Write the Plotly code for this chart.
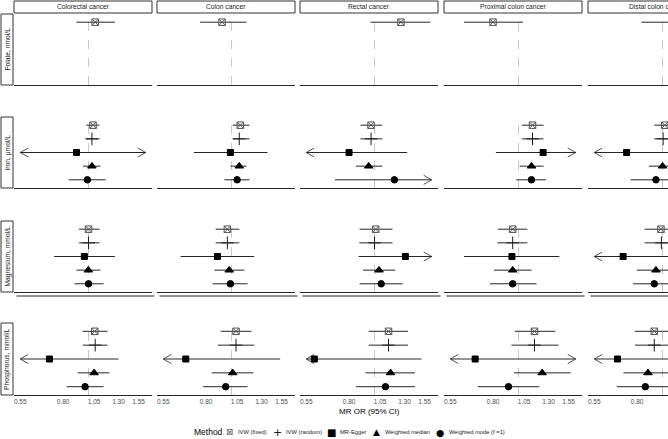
import math
import plotly.graph_objects as go

# ---------------- data ----------------
CANCERS = ["Colorectal cancer", "Colon cancer", "Rectal cancer",
           "Proximal colon cancer", "Distal colon cancer"]
EXPOSURES = ["Folate, nmol/L", "Iron, μmol/L", "Magnesium, mmol/L", "Phosphorus, mmol/L"]
METHODS = ["IVW (fixed)", "IVW (random)", "MR-Egger", "Weighted median", "Weighted mode (f =1)"]
TICK_VALUES = [0.55, 0.80, 1.05, 1.30, 1.55]
TICK_LABELS = ["0.55", "0.80", "1.05", "1.30", "1.55"]
AXIS_LIMITS = [0.55, 1.65]
NULL_OR = 1.0

# rows = methods, columns = cancers
FOLATE_OR = [[1.06, 0.92, 1.26, 0.80, 1.15],
             [None] * 5, [None] * 5, [None] * 5, [None] * 5]
FOLATE_LO = [[0.90, 0.76, 0.965, 0.62, 0.83],
             [None] * 5, [None] * 5, [None] * 5, [None] * 5]
FOLATE_HI = [[1.26, 1.14, 1.63, 1.04, 1.59],
             [None] * 5, [None] * 5, [None] * 5, [None] * 5]

IRON_OR = [[1.04, 1.08, 0.97, 1.13, 1.02],
           [1.03, 1.07, 0.97, 1.13, 1.005],
           [0.90, 0.99, 0.80, 1.24, 0.73],
           [1.03, 1.07, 0.95, 1.12, 1.00],
           [0.99, 1.05, 1.19, 1.12, 0.944]]
IRON_LO = [[0.98, 1.01, 0.884, 1.03, 0.93],
           [0.975, 1.01, 0.884, 1.03, 0.93],
           [0.40, 0.72, 0.45, 0.82, 0.42],
           [0.953, 0.99, 0.85, 1.01, 0.887],
           [0.84, 0.94, 0.706, 0.98, 0.756]]
IRON_HI = [[1.10, 1.17, 1.07, 1.245, 1.12],
           [1.10, 1.17, 1.07, 1.245, 1.09],
           [2.05, 1.37, 1.33, 1.95, 1.25],
           [1.11, 1.14, 1.07, 1.245, 1.13],
           [1.16, 1.17, 2.00, 1.27, 1.18]]

MAGNESIUM_OR = [[1.00, 0.964, 1.01, 0.95, 0.986],
                [1.00, 0.964, 1.00, 0.95, 0.99],
                [0.964, 0.884, 1.31, 0.944, 0.708],
                [0.998, 0.98, 1.04, 0.95, 0.944],
                [1.00, 0.99, 1.06, 0.95, 0.93]]
MAGNESIUM_LO = [[0.92, 0.87, 0.877, 0.834, 0.855],
                [0.92, 0.87, 0.875, 0.83, 0.855],
                [0.74, 0.64, 0.87, 0.62, 0.45],
                [0.90, 0.86, 0.905, 0.807, 0.798],
                [0.884, 0.847, 0.877, 0.779, 0.772]]
MAGNESIUM_HI = [[1.10, 1.07, 1.17, 1.08, 1.14],
                [1.10, 1.07, 1.17, 1.08, 1.15],
                [1.26, 1.22, 1.98, 1.43, 1.20],
                [1.11, 1.12, 1.20, 1.12, 1.12],
                [1.14, 1.15, 1.28, 1.17, 1.12]]

PHOSPHORUS_OR = [[1.056, 1.04, 1.13, 1.15, 0.93],
                 [1.06, 1.04, 1.13, 1.15, 0.93],
                 [0.71, 0.67, 0.59, 0.684, 0.674],
                 [1.05, 1.01, 1.15, 1.23, 0.88],
                 [0.97, 0.95, 1.10, 0.916, 0.86]]
PHOSPHORUS_LO = [[0.95, 0.91, 0.95, 0.97, 0.785],
                 [0.95, 0.887, 0.95, 0.94, 0.785],
                 [0.40, 0.30, 0.23, 0.28, 0.35],
                 [0.91, 0.84, 0.924, 0.96, 0.71],
                 [0.826, 0.78, 0.85, 0.70, 0.67]]
PHOSPHORUS_HI = [[1.18, 1.19, 1.34, 1.38, 1.10],
                 [1.18, 1.22, 1.34, 1.42, 1.10],
                 [1.30, 1.53, 1.51, 1.75, 1.30],
                 [1.20, 1.21, 1.425, 1.58, 1.09],
                 [1.14, 1.15, 1.425, 1.20, 1.10]]

EXPOSURE_DATA = [(FOLATE_OR, FOLATE_LO, FOLATE_HI),
                 (IRON_OR, IRON_LO, IRON_HI),
                 (MAGNESIUM_OR, MAGNESIUM_LO, MAGNESIUM_HI),
                 (PHOSPHORUS_OR, PHOSPHORUS_LO, PHOSPHORUS_HI)]

# ---------------- styling / geometry ----------------
FIG_W, FIG_H = 668, 439
COL_LEFT = [14, 157, 300, 444, 588]
PANEL_W = 138
ROW_TOP = [14, 117, 221, 323]
ROW_BOTTOM = [85, 188, 292, 395]
STRIP_TOP, STRIP_BOTTOM = 1, 13
ROW_STRIP_LEFT, ROW_STRIP_RIGHT = 1, 13
EXPAND = 0.05
Y_MIN, Y_MAX = 0.4, 5.6
ARROW_LEN_PX = 8
ARROW_HALF_H = 0.33
FONT = "Liberation Sans, Arial, sans-serif"
LINE_COL = "#262626"
SYMBOLS = ["square-x-open", "cross-thin-open", "square", "triangle-up", "circle"]
SIZES = [6.5, 9, 6, 7.5, 6.5]
MARKER_COLORS = ["#555555", "#1a1a1a", "#000000", "#000000", "#000000"]
# key glyphs / placement for the legend row (pixels)
LEGEND_GLYPHS = ["⊠", "+", "■", "▲", "●"]
LEGEND_GLYPH_SIZE = [8.5, 11, 10, 9, 9.5]
LEGEND_GLYPH_X = [229, 277, 331, 376, 440]
LEGEND_TEXT_X = [236, 284, 338, 383, 447]
LEGEND_TITLE_X = 192
LEGEND_Y = 432


def px(xp):
    return xp / FIG_W


def py(yp):
    return 1 - yp / FIG_H


XMIN, XMAX = AXIS_LIMITS
span = math.log10(XMAX) - math.log10(XMIN)
r0 = math.log10(XMIN) - EXPAND * span
r1 = math.log10(XMAX) + EXPAND * span
px_per_dec = PANEL_W / (r1 - r0)
k = 10 ** (ARROW_LEN_PX / px_per_dec)

fig = go.Figure()
layout = {}
nm = len(METHODS)

for ri, (or_rows, lo_rows, hi_rows) in enumerate(EXPOSURE_DATA):
    for ci in range(len(CANCERS)):
        n = ri * len(CANCERS) + ci + 1
        sfx = "" if n == 1 else str(n)
        xa, ya = "x" + sfx, "y" + sfx

        # reference line at OR = 1
        fig.add_trace(go.Scatter(x=[NULL_OR, NULL_OR], y=[Y_MIN, Y_MAX], mode="lines",
                                 line=dict(color="#b8b8b8", width=0.8, dash="dash"),
                                 xaxis=xa, yaxis=ya, showlegend=False, hoverinfo="skip"))

        cx, cy, axs, ays = [], [], [], []
        for mi in range(nm):
            o = or_rows[mi][ci]
            if o is None:
                continue
            lo, hi = lo_rows[mi][ci], hi_rows[mi][ci]
            y = nm - mi
            cx += [max(lo, XMIN), min(hi, XMAX), None]
            cy += [y, y, None]
            if lo < XMIN:
                axs += [XMIN * k, XMIN, XMIN * k, None]
                ays += [y + ARROW_HALF_H, y, y - ARROW_HALF_H, None]
            if hi > XMAX:
                axs += [XMAX / k, XMAX, XMAX / k, None]
                ays += [y + ARROW_HALF_H, y, y - ARROW_HALF_H, None]
        fig.add_trace(go.Scatter(x=cx, y=cy, mode="lines", line=dict(color=LINE_COL, width=1),
                                 xaxis=xa, yaxis=ya, showlegend=False, hoverinfo="skip"))
        if axs:
            fig.add_trace(go.Scatter(x=axs, y=ays, mode="lines",
                                     line=dict(color=LINE_COL, width=0.8),
                                     xaxis=xa, yaxis=ya, showlegend=False, hoverinfo="skip"))
        for mi in range(nm):
            o = or_rows[mi][ci]
            if o is None:
                continue
            fig.add_trace(go.Scatter(
                x=[o], y=[nm - mi], mode="markers", name=METHODS[mi],
                legendgroup=METHODS[mi], showlegend=False,
                marker=dict(symbol=SYMBOLS[mi], size=SIZES[mi], color=MARKER_COLORS[mi],
                            line=dict(width=1, color=MARKER_COLORS[mi])),
                xaxis=xa, yaxis=ya))

        left = COL_LEFT[ci]
        right = left + PANEL_W
        rng = [r0, r1]
        if right > FIG_W:
            # panel runs past the picture's right edge: show only its visible part
            rng = [r0, r0 + (r1 - r0) * (FIG_W - left) / PANEL_W]
            right = FIG_W
        layout["xaxis" + sfx] = dict(
            type="log", range=rng, domain=[px(left), px(right)], anchor=ya,
            showline=True, linecolor=LINE_COL, linewidth=1, showgrid=False, zeroline=False,
            ticks="", tickvals=TICK_VALUES, ticktext=TICK_LABELS,
            showticklabels=(ri == len(EXPOSURES) - 1),
            tickfont=dict(size=6.5, color="#4d4d4d", family=FONT), fixedrange=True)
        layout["yaxis" + sfx] = dict(
            range=[Y_MIN, Y_MAX], domain=[py(ROW_BOTTOM[ri]), py(ROW_TOP[ri])],
            anchor=xa, visible=False, fixedrange=True)

shapes, annotations = [], []
for ci, name in enumerate(CANCERS):
    left = COL_LEFT[ci]
    shapes.append(dict(type="rect", xref="paper", yref="paper",
                       x0=px(left), x1=px(left + PANEL_W), y0=py(STRIP_BOTTOM), y1=py(STRIP_TOP),
                       line=dict(color="#333333", width=1), fillcolor="white", layer="below"))
    annotations.append(dict(text=name, xref="paper", yref="paper", showarrow=False,
                            x=px(left + PANEL_W / 2), y=py((STRIP_TOP + STRIP_BOTTOM) / 2),
                            xanchor="center", yanchor="middle",
                            font=dict(size=6.7, color="#1a1a1a", family=FONT)))
    # double rule under the magnesium row
    shapes.append(dict(type="line", xref="paper", yref="paper",
                       x0=px(left + 2.5), x1=px(left + PANEL_W + 2.5),
                       y0=py(ROW_BOTTOM[2] + 4), y1=py(ROW_BOTTOM[2] + 4),
                       line=dict(color=LINE_COL, width=1)))

for ri, name in enumerate(EXPOSURES):
    shapes.append(dict(type="rect", xref="paper", yref="paper",
                       x0=px(ROW_STRIP_LEFT), x1=px(ROW_STRIP_RIGHT),
                       y0=py(ROW_BOTTOM[ri]), y1=py(ROW_TOP[ri]),
                       line=dict(color="#333333", width=1), fillcolor="white", layer="below"))
    annotations.append(dict(text=name, xref="paper", yref="paper", showarrow=False,
                            x=px((ROW_STRIP_LEFT + ROW_STRIP_RIGHT) / 2),
                            y=py((ROW_TOP[ri] + ROW_BOTTOM[ri]) / 2),
                            xanchor="center", yanchor="middle", textangle=-90,
                            font=dict(size=6.7, color="#1a1a1a", family=FONT)))

annotations.append(dict(text="MR OR (95% CI)", xref="paper", yref="paper", showarrow=False,
                        x=px(369), y=py(411), xanchor="center", yanchor="middle",
                        font=dict(size=8, color="#000000", family=FONT)))

# legend row (title, key glyphs, method names)
annotations.append(dict(text="Method", xref="paper", yref="paper", showarrow=False,
                        x=px(LEGEND_TITLE_X), y=py(LEGEND_Y), xanchor="left", yanchor="middle",
                        font=dict(size=8.5, color="#000000", family=FONT)))
for mi, name in enumerate(METHODS):
    annotations.append(dict(text=LEGEND_GLYPHS[mi], xref="paper", yref="paper", showarrow=False,
                            x=px(LEGEND_GLYPH_X[mi]), y=py(LEGEND_Y),
                            xanchor="center", yanchor="middle",
                            font=dict(size=LEGEND_GLYPH_SIZE[mi], color=MARKER_COLORS[mi],
                                      family="DejaVu Sans, " + FONT)))
    annotations.append(dict(text=name, xref="paper", yref="paper", showarrow=False,
                            x=px(LEGEND_TEXT_X[mi]), y=py(LEGEND_Y),
                            xanchor="left", yanchor="middle",
                            font=dict(size=5.8, color="#1a1a1a", family=FONT)))

fig.update_layout(
    **layout,
    width=FIG_W, height=FIG_H, autosize=False,
    margin=dict(l=0, r=0, t=0, b=0),
    paper_bgcolor="white", plot_bgcolor="white",
    font=dict(family=FONT, color="#1a1a1a"),
    shapes=shapes, annotations=annotations,
    showlegend=False,
)

fig.write_html("out.html", config={"displayModeBar": False},
               post_script="document.body.style.margin='0px';"
                           "document.body.style.overflow='hidden';")
